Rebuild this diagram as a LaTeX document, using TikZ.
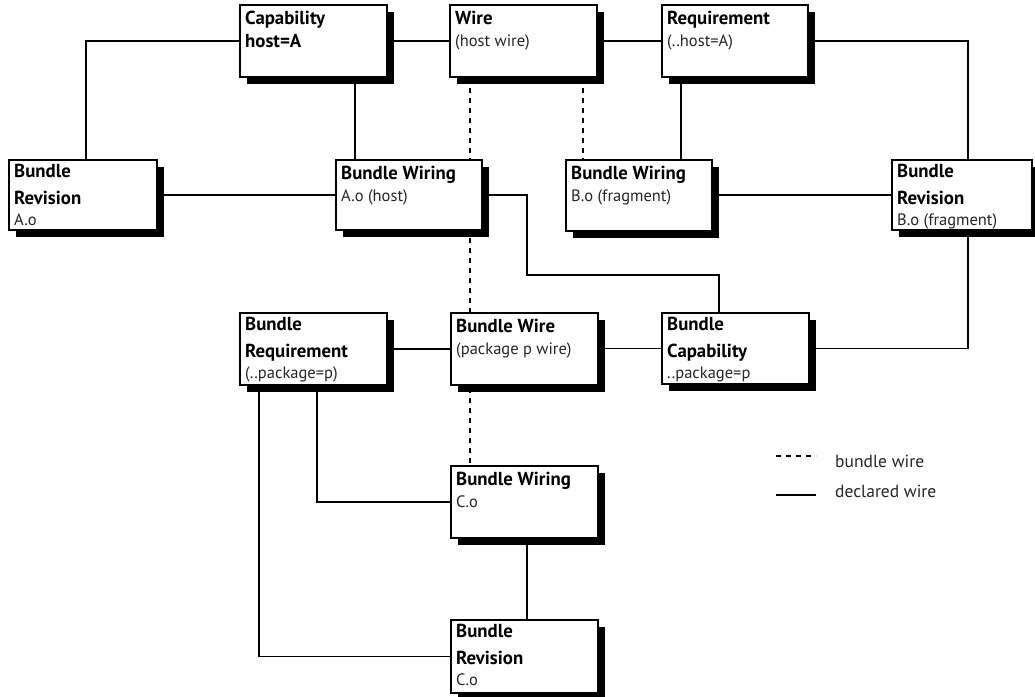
\documentclass[tikz,border=0pt]{standalone}
\usepackage{fontspec}
\setmainfont{PT Sans}
\usetikzlibrary{shadows,calc}
\pgfdeclarelayer{bglayer}
\pgfdeclarelayer{linelayer}
\pgfsetlayers{bglayer,linelayer,main}
\tikzset{
  box/.style={draw=black, line width=2pt, fill=white, inner sep=0pt,
    drop shadow={shadow xshift=6.5pt, shadow yshift=-6.5pt, fill=black, opacity=1}},
  tb/.style={anchor=base west, inner sep=0pt, font=\fontsize{18.8}{20}\selectfont\bfseries},
  tr/.style={anchor=base west, inner sep=0pt, font=\fontsize{16.5}{19}\selectfont, text=black!85},
  tl/.style={anchor=base west, inner sep=0pt, font=\fontsize{17.5}{19}\selectfont, text=black!85},
  solidline/.style={line width=1.9pt},
  dashline/.style={line width=1.9pt, dash pattern=on 5pt off 5pt},
}
\newcommand\twotxt[4]{%
  \node[#2] (#1t1) at ($(#1.north west)+(6,20)$) {#3};
  \node[tr] (#1t2) at ($(#1.north west)+(6,42)$) {#4};}
\newcommand\threetxt[4]{%
  \node[tb] (#1t1) at ($(#1.north west)+(6,18)$) {#2};
  \node[tb] (#1t2) at ($(#1.north west)+(6,45)$) {#3};
  \node[tr] (#1t3) at ($(#1.north west)+(6,66)$) {#4};}
\begin{document}
\begin{tikzpicture}[x=1pt,y=-1pt]
\begin{pgfonlayer}{bglayer}
  \fill[white] (0,0) rectangle (1035,696);
\end{pgfonlayer}
\useasboundingbox (0,0) rectangle (1035,696);

% boxes
\node[box, minimum width=147pt, minimum height=72pt] (cap)   at (313.5,41) {};
\node[box, minimum width=147pt, minimum height=72pt] (wire)  at (523.5,41) {};
\node[box, minimum width=146pt, minimum height=72pt] (req)   at (735,41) {};
\node[box, minimum width=148pt, minimum height=70pt] (brA)   at (83,195) {};
\node[box, minimum width=146pt, minimum height=70pt] (bwA)   at (409,195) {};
\node[box, minimum width=146pt, minimum height=71pt] (bwB)   at (639,195.5) {};
\node[box, minimum width=140pt, minimum height=70pt] (brB)   at (962,195) {};
\node[box, minimum width=147pt, minimum height=72pt] (breq)  at (313.5,349) {};
\node[box, minimum width=147pt, minimum height=72pt] (bwire) at (524.5,349) {};
\node[box, minimum width=147pt, minimum height=71pt] (bcap)  at (735.5,348.5) {};
\node[box, minimum width=147pt, minimum height=72pt] (bwC)   at (524.5,502) {};
\node[box, minimum width=147pt, minimum height=73pt] (brC)   at (524.5,656.5) {};

% texts
\node[tb] (capt1) at ($(cap.north west)+(6,20)$) {Capability};
\node[tb] (capt2) at ($(cap.north west)+(6,43)$) {host=A};
\twotxt{wire}{tb}{Wire}{(host wire)}
\twotxt{req}{tb}{Requirement}{(..host=A)}
\threetxt{brA}{Bundle}{Revision}{A.o}
\twotxt{bwA}{tb}{Bundle Wiring}{A.o (host)}
\twotxt{bwB}{tb}{Bundle Wiring}{B.o (fragment)}
\threetxt{brB}{Bundle}{Revision}{B.o (fragment)}
\threetxt{breq}{Bundle}{Requirement}{(..package=p)}
\twotxt{bwire}{tb}{Bundle Wire}{(package p wire)}
\threetxt{bcap}{Bundle}{Capability}{..package=p}
\twotxt{bwC}{tb}{Bundle Wiring}{C.o}
\threetxt{brC}{Bundle}{Revision}{C.o}

% column / junction coordinates
\coordinate (x86) at (86,0);
\coordinate (x355) at (355,0);
\coordinate (x968) at (968,0);
\coordinate (x681) at (681,0);
\coordinate (x470) at (470,0);
\coordinate (x583) at (583,0);
\coordinate (x719) at (719,0);
\coordinate (x259) at (259,0);
\coordinate (x317) at (317,0);
\coordinate (x527) at (527,0);
\coordinate (k1) at (527,275);

\begin{pgfonlayer}{linelayer}
  \draw[solidline] (cap.west) -| (brA.north -| x86);
  \draw[solidline] (cap.south -| x355) -- (bwA.north -| x355);
  \draw[solidline] (cap.east) -- (wire.west);
  \draw[solidline] (wire.east) -- (req.west);
  \draw[solidline] (req.east) -| (brB.north -| x968);
  \draw[solidline] (req.south -| x681) -- (bwB.north -| x681);
  \draw[dashline] (wire.south -| x470) -- (bwC.north -| x470);
  \draw[dashline] (wire.south -| x583) -- (bwB.north -| x583);
  \draw[solidline] (brA.east) -- (bwA.west);
  \draw[solidline] (bwB.east |- brB.west) -- (brB.west);
  \draw[solidline] (bwA.east) -| (k1) -| (bcap.north -| x719);
  \draw[solidline] (brB.south -| x968) |- (bcap.east);
  \draw[solidline] (breq.east) -- (bwire.west);
  \draw[solidline] (bwire.east |- bcap.west) -- (bcap.west);
  \draw[solidline] (breq.south -| x259) |- (brC.west);
  \draw[solidline] (breq.south -| x317) |- (bwC.west);
  \draw[solidline] (bwC.south -| x527) -- (brC.north -| x527);
\end{pgfonlayer}

% legend
\coordinate (l1a) at (776,456);
\coordinate (l1b) at (816,456);
\coordinate (l2a) at (776,495);
\coordinate (l2b) at (816,495);
\draw[dashline] (l1a) -- (l1b);
\draw[solidline] (l2a) -- (l2b);
\node[tl] (lg1) at (835,467) {bundle wire};
\node[tl] (lg2) at (835,497) {declared wire};
\end{tikzpicture}
\end{document}
